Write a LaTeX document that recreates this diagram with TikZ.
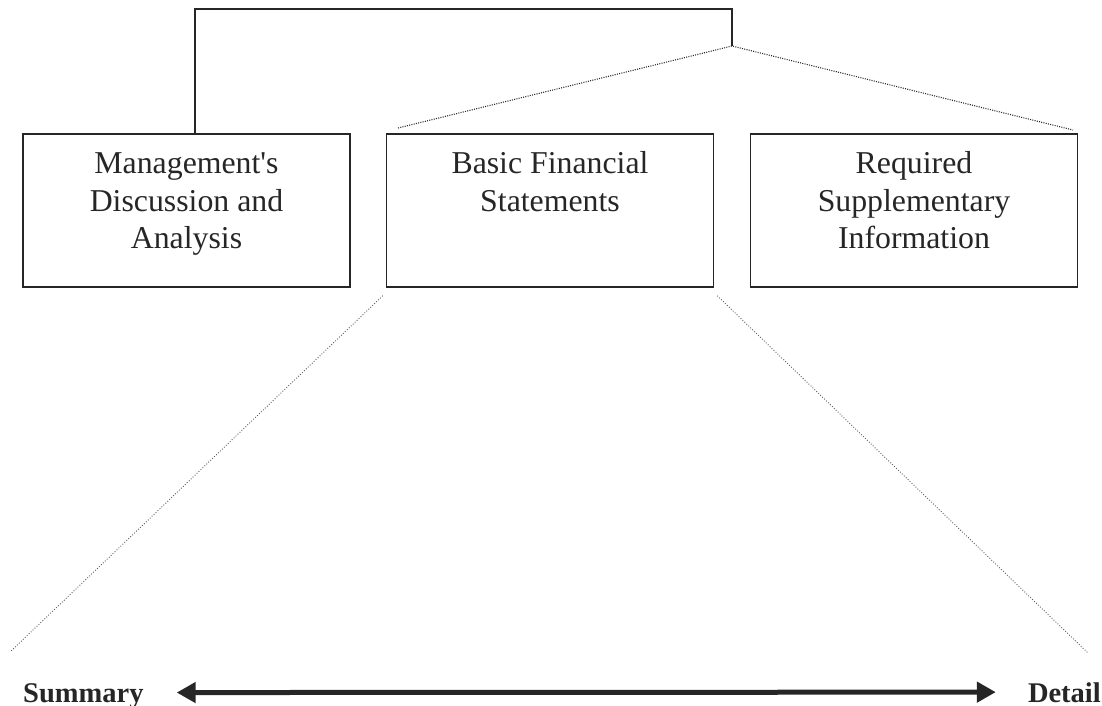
\documentclass[tikz,border=0pt]{standalone}
\usepackage{fontspec}
\setmainfont{Liberation Serif}
\usetikzlibrary{arrows.meta}
\begin{document}
\begin{tikzpicture}[x=1pt,y=-1pt,
  boxstyle/.style={draw=black!85,line width=1.5pt,rectangle,minimum width=327pt,minimum height=153pt,inner sep=0pt},
  lbl/.style={align=center,inner sep=0pt,font=\fontsize{31.8}{37.5}\selectfont,text=black!85},
  endlbl/.style={inner sep=0pt,font=\fontsize{28.5}{30}\selectfont\bfseries,text=black!85,text depth=0pt},
  solidline/.style={draw=black!85,line width=1.5pt},
  dotline/.style={draw=black!85,line width=1.1pt,dash pattern=on 1pt off 1.3pt},
  faintdot/.style={draw=black!65,line width=0.9pt,dash pattern=on 0.9pt off 1.8pt},
  bigarrow/.style={draw=black!85,line width=5pt,{Triangle[length=19pt,width=20pt]}-{Triangle[length=19pt,width=20pt]}}
]
\useasboundingbox (0,0) rectangle (1102,706);

% boxes
\node[boxstyle] (mda) at (186.5,210.5) {};
\node[boxstyle] (bfs) at (550,210.5) {};
\node[boxstyle] (rsi) at (914,210.5) {};

% box texts (base = baseline of last line)
\node[lbl,anchor=base] (mdat) at (186.5,248.5) {Management\textquotesingle s\\Discussion and\\Analysis};
\node[lbl,anchor=base] (bfst) at (550,211) {Basic Financial\\Statements};
\node[lbl,anchor=base] (rsit) at (914,248.5) {Required\\Supplementary\\Information};

% bracket
\coordinate (corner) at (732,9);
\coordinate (joint) at (732,46);
\draw[solidline] ([xshift=8.5pt]mda.north) |- (corner) -- (joint);

% dotted fan to top of boxes
\coordinate (dl) at (398,128);
\coordinate (dr) at (1073,130);
\draw[dotline] (dl) -- (joint) -- (dr);

% dotted fan from basic financial statements
\coordinate (bl) at (10,652);
\coordinate (br) at (1088,653);
\draw[faintdot] ([xshift=-3pt,yshift=-8pt]bfs.south west) -- (bl);
\draw[faintdot] ([xshift=3pt,yshift=-8pt]bfs.south east) -- (br);

% bottom labels and arrow
\node[endlbl,anchor=base west] (sum) at (23,702) {Summary};
\node[endlbl,anchor=base east] (det) at (1101,702) {Detail};
\draw[bigarrow,shorten <=33pt,shorten >=32pt] (sum.east) -- (det.west);
\end{tikzpicture}
\end{document}
